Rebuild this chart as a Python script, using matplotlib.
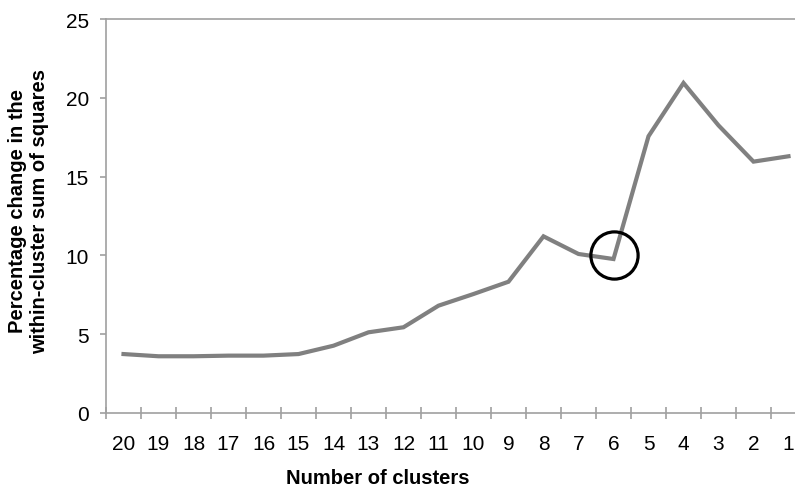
import matplotlib
matplotlib.use("Agg")
import matplotlib.pyplot as plt
import numpy as np

plt.rcParams['font.family'] = ['Liberation Sans', 'DejaVu Sans']

clusters = ["20", "19", "18", "17", "16", "15", "14", "13", "12", "11",
            "10", "9", "8", "7", "6", "5", "4", "3", "2", "1"]
pct_change = [3.74, 3.6, 3.6, 3.64, 3.64, 3.74, 4.27, 5.12, 5.44, 6.81,
              7.55, 8.33, 11.21, 10.09, 9.77, 17.56, 20.94, 18.25, 15.95, 16.29]
highlight_label = "6"
highlight_value = 10.0

fig = plt.figure(figsize=(7.95, 4.89), dpi=100)
ax = fig.add_axes([106/795, 75/489, 700/795, 394/489])

x = np.arange(len(clusters))
ax.plot(x, pct_change, color='#808080', lw=3.0, solid_joinstyle='miter', clip_on=False)

hx = clusters.index(highlight_label)
ax.plot([hx], [highlight_value], marker='o', ms=34, mfc='none', mec='black', mew=2.3, clip_on=False)

ax.set_xlim(-0.5, len(clusters) - 0.5)
ax.set_ylim(0, 25)
ax.set_yticks([0, 5, 10, 15, 20, 25])
ax.set_xticks(x)
ax.set_xticklabels(clusters)
ax.set_xticks(np.arange(-0.5, len(clusters), 1.0), minor=True)

for s in ['right']:
    ax.spines[s].set_visible(False)
for s in ['left', 'bottom', 'top']:
    ax.spines[s].set_color('#a0a0a0')
    ax.spines[s].set_linewidth(1.2)

ax.tick_params(axis='x', which='major', length=0, pad=15, labelsize=15, colors='black')
ax.tick_params(axis='x', which='minor', length=8.6, direction='inout', color='#a0a0a0', width=1.2)
ax.tick_params(axis='y', which='major', length=4.3, direction='out', color='#a0a0a0', width=1.2,
               pad=8, labelsize=15, labelcolor='black')

fig.text(378/795, 1 - 479/489, "Number of clusters", ha='center', va='center',
         fontsize=14.5, fontweight='bold')
fig.text(29/795, 1 - 211/489, "Percentage change in the\nwithin-cluster sum of squares",
         rotation=90, ha='center', va='center', fontsize=14.5, fontweight='bold',
         linespacing=1.2)

fig.savefig("out.png", dpi=100)
